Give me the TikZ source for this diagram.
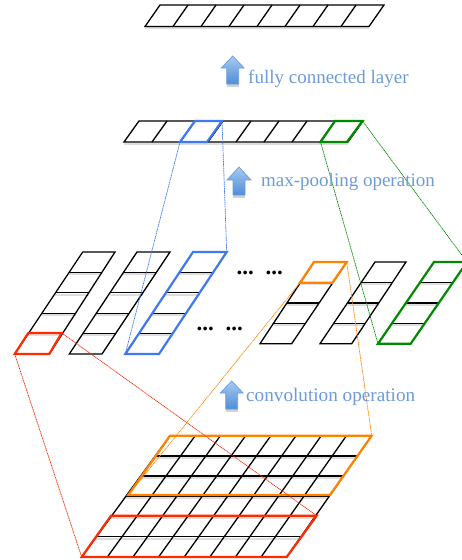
\documentclass[tikz,border=0pt]{standalone}
\usepackage{fontspec}
\setmainfont{Liberation Serif}
\definecolor{cnnred}{HTML}{FF2A00}
\definecolor{cnnorange}{HTML}{FF8200}
\definecolor{cnnblue}{HTML}{3F78F0}
\definecolor{cnngreen}{HTML}{008A00}
\definecolor{cnntext}{HTML}{6E9BD9}
\definecolor{cnnarrowtop}{HTML}{A8CAF0}
\definecolor{cnnarrowbot}{HTML}{4F8DD6}
\definecolor{cnnarrowline}{HTML}{6A9FE0}
\tikzset{
  cnnline/.style={draw=black,line width=1.3pt,line join=miter},
  cnnfuzz/.style={draw=black!13,line width=2pt,transform canvas={yshift=-1.8pt}},
  hilite/.style={line width=2.2pt,line join=miter},
  linkline/.style={line width=0.7pt,dash pattern=on 1.2pt off 0.6pt},
  caption/.style={text=cnntext,font=\fontsize{19}{19}\selectfont,anchor=base west,inner sep=0pt},
  dots/.style={font=\bfseries\fontsize{23}{23}\selectfont,anchor=base west,inner sep=0pt},
  uparrow/.style={draw=cnnarrowline,line width=0.7pt,top color=cnnarrowtop,bottom color=cnnarrowbot,line join=miter}
}
% horizontal strip: name, bottom-left x, bottom y, top-left x, top y, cell width, n cells
\newcommand\cnnbar[7]{%
  \coordinate (#1bl) at (#2,#3);
  \coordinate (#1tl) at (#4,#5);
  \coordinate (#1br) at ({#2+#6*#7},#3);
  \coordinate (#1tr) at ({#4+#6*#7},#5);
  \path[cnnfuzz] (#1bl) -- (#1br);
  \foreach \k in {1,...,\numexpr#7-1\relax}{%
    \draw[cnnline] ({#2+#6*\k},#3) -- ({#4+#6*\k},#5);}
  \draw[cnnline] (#1bl) -- (#1tl) -- (#1tr) -- (#1br) -- cycle;
}
% vertical column: name, bl x, br x, tl x, tr x, bottom y, top y, n rows, outline colour
\newcommand\cnncol[9]{%
  \coordinate (#1bl) at (#2,#6);
  \coordinate (#1br) at (#3,#6);
  \coordinate (#1tl) at (#4,#7);
  \coordinate (#1tr) at (#5,#7);
  \foreach \k in {1,...,\numexpr#8-1\relax}{%
    \pgfmathsetmacro\cnnf{\k/#8}
    \path[cnnfuzz] ($(#1bl)!\cnnf!(#1tl)$) -- ($(#1br)!\cnnf!(#1tr)$);
    \draw[cnnline] ($(#1bl)!\cnnf!(#1tl)$) -- ($(#1br)!\cnnf!(#1tr)$);}
  \draw[#9] (#1bl) -- (#1tl) -- (#1tr) -- (#1br) -- cycle;
}
% block arrow: tip x, tip y, head half width, shaft half width, head base y, bottom y
\newcommand\cnnarrow[6]{%
  \fill[black!18] ({#1-#4},#6) rectangle ({#1+#4},{#6+2.5});
  \path[uparrow] (#1,#2) -- ({#1+#3},#5) -- ({#1+#4},#5) -- ({#1+#4},#6) -- ({#1-#4},#6) -- ({#1-#4},#5) -- ({#1-#3},#5) -- cycle;
}
\usetikzlibrary{calc}
\begin{document}
\begin{tikzpicture}[x=1pt,y=-1pt]
\fill[white] (0,0) rectangle (462,560);
\clip (0,0) rectangle (462,560);
% full-width bars
\cnnbar{top}{145}{26.5}{160}{5}{28}{8}
\cnnbar{pool}{124}{142}{139}{121}{28}{8}
\coordinate (poolbluebl) at (180,142);
\coordinate (poolbluebr) at (207,142);
\coordinate (poolbluetl) at (195,121);
\coordinate (poolbluetr) at (222,121);
\coordinate (poolgreenbl) at (320.5,142);
\coordinate (poolgreenbr) at (347,142);
\coordinate (poolgreentl) at (335,121);
\coordinate (poolgreentr) at (362.5,121);
% columns
\cnncol{c1}{14.7}{49.3}{82.7}{115}{354}{252}{5}{cnnline}
\cnncol{c2}{69.3}{102}{137}{170}{354}{252}{5}{cnnline}
\cnncol{c3}{125.3}{159}{193}{226.7}{354}{252}{5}{hilite,draw=cnnblue}
\cnncol{c4}{260}{291.7}{314}{346.7}{343.7}{262}{4}{cnnline}
\cnncol{c5}{320}{351.7}{375}{406}{343.7}{262}{4}{cnnline}
\cnncol{c6}{378}{410.7}{434}{467}{343.7}{262}{4}{hilite,draw=cnngreen}
% highlighted cells in the columns
\coordinate (c1rbl) at (14.7,354);
\coordinate (c1rbr) at (49.3,354);
\coordinate (c1rtl) at (28.3,333);
\coordinate (c1rtr) at (61.7,333);
\coordinate (c4obl) at (300,282.7);
\coordinate (c4obr) at (332.5,282.7);
\coordinate (c4otl) at (314,262);
\coordinate (c4otr) at (346.7,262);
% grid
\coordinate (gbl) at (81.7,557);
\coordinate (gbr) at (286.7,557);
\coordinate (gtl) at (170,435.7);
\coordinate (gtr) at (371.7,435.7);
\foreach \k in {1,...,5}{%
  \pgfmathsetmacro\cnnf{\k/6}
  \path[cnnfuzz] ($(gbl)!\cnnf!(gtl)$) -- ($(gbr)!\cnnf!(gtr)$);}
\foreach \k in {1,...,5}{%
  \pgfmathsetmacro\cnnf{\k/6}
  \draw[cnnline] ($(gbl)!\cnnf!(gtl)$) -- ($(gbr)!\cnnf!(gtr)$);}
\foreach \k in {1,...,7}{%
  \pgfmathsetmacro\cnnf{\k/8}
  \draw[cnnline] ($(gbl)!\cnnf!(gbr)$) -- ($(gtl)!\cnnf!(gtr)$);}
\draw[cnnline] (gbl) -- (gtl) -- (gtr) -- (gbr) -- cycle;
\coordinate (grtl) at (111,515.7);
\coordinate (grtr) at (316.7,515.7);
\coordinate (gobl) at (128.3,495);
\coordinate (gobr) at (330,495);
% highlights
\draw[hilite,draw=cnnblue] (poolbluebl) -- (poolbluetl) -- (poolbluetr) -- (poolbluebr) -- cycle;
\draw[hilite,draw=cnngreen] (poolgreenbl) -- (poolgreentl) -- (poolgreentr) -- (poolgreenbr) -- cycle;
\draw[hilite,draw=cnnred] (c1rbl) -- (c1rtl) -- (c1rtr) -- (c1rbr) -- cycle;
\draw[hilite,draw=cnnorange] (c4obl) -- (c4otl) -- (c4otr) -- (c4obr) -- cycle;
\draw[hilite,draw=cnnred] (gbl) -- (grtl) -- (grtr) -- (gbr) -- cycle;
\draw[hilite,draw=cnnorange] (gobl) -- (gtl) -- (gtr) -- (gobr) -- cycle;
% connectors
\draw[linkline,draw=cnnblue] (poolbluebl) -- (c3bl);
\draw[linkline,draw=cnnblue] (poolbluetr) -- (c3tr);
\draw[linkline,draw=cnngreen] (poolgreenbl) -- (c6bl);
\draw[linkline,draw=cnngreen] (poolgreentr) -- (c6tr);
\draw[linkline,draw=cnnred] (c1rbl) -- (gbl);
\draw[linkline,draw=cnnred] (c1rtr) -- (grtr);
\draw[linkline,draw=cnnorange] (c4obl) -- (gobl);
\draw[linkline,draw=cnnorange] (c4otr) -- (gtr);
% arrows
\cnnarrow{232.7}{56}{11.5}{6}{68}{84}
\cnnarrow{239}{167}{12}{6}{180}{195}
\cnnarrow{231.7}{381}{11.5}{6}{393}{409}
% labels
\node[caption] (fc) at (248,83) {fully connected layer};
\node[caption] (mp) at (261,186) {max-pooling operation};
\node[caption,font=\fontsize{19.2}{19.2}\selectfont] (cv) at (246,401) {convolution operation};
\node[dots] (d1) at (236.5,274) {...\hspace{4pt} ...};
\node[dots] (d2) at (196.5,330) {...\hspace{4pt} ...};
\end{tikzpicture}
\end{document}
